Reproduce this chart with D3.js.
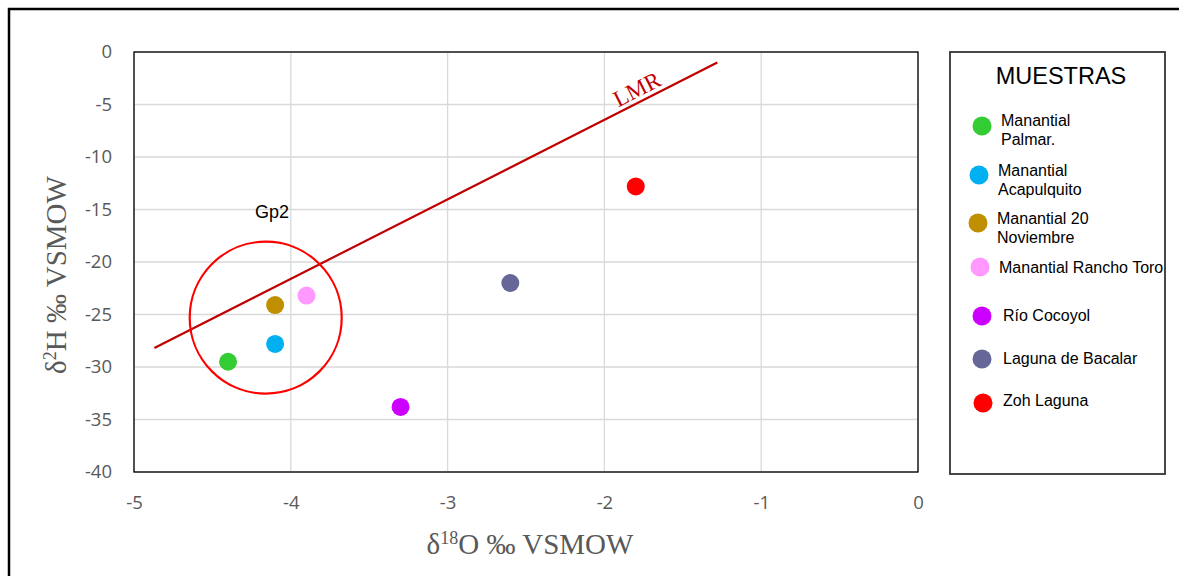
<!DOCTYPE html>
<html>
<head>
<meta charset="utf-8">
<script src="https://cdn.jsdelivr.net/npm/d3@7"></script>
<style>
  body { margin: 0; background: #fff; }
  svg { display: block; }
</style>
</head>
<body>
<div id="chart"></div>
<script>
// sample data
const samples = ['Manantial Palmar.', 'Manantial Acapulquito', 'Manantial 20 Noviembre',
  'Manantial Rancho Toro', 'Río Cocoyol', 'Laguna de Bacalar', 'Zoh Laguna'];
const d18O = [-4.4, -4.1, -4.1, -3.9, -3.3, -2.6, -1.8];
const d2H = [-29.5, -27.8, -24.1, -23.2, -33.8, -22.0, -12.8];
const colors = ['#33cc33', '#00b0f0', '#bf8f00', '#ff99ff', '#cc00ff', '#666699', '#ff0000'];

// legend text split as in the original
const legendLines = [['Manantial', 'Palmar.'], ['Manantial', 'Acapulquito'], ['Manantial 20', 'Noviembre'],
  ['Manantial Rancho Toro'], ['Río Cocoyol'], ['Laguna de Bacalar'], ['Zoh Laguna']];

// local meteoric line endpoints
const lmrX = [-4.87, -1.28];
const lmrY = [-28.2, -1.0];

// group circle (center in data units)
const gp2Center = [-4.16, -25.3];

const xTicks = [-5, -4, -3, -2, -1, 0];
const yTicks = [0, -5, -10, -15, -20, -25, -30, -35, -40];

const W = 1179, H = 576;
const margin = { top: 52, left: 134 };
const width = 784, height = 420;

const svg = d3.select('#chart').append('svg')
  .attr('width', W).attr('height', H);

// outer frame
svg.append('rect')
  .attr('x', 9).attr('y', 9).attr('width', W + 10).attr('height', H + 10)
  .attr('fill', 'none').attr('stroke', '#000').attr('stroke-width', 2.5);

const x = d3.scaleLinear().domain([-5, 0]).range([0, width]);
const y = d3.scaleLinear().domain([-40, 0]).range([height, 0]);

const g = svg.append('g')
  .attr('transform', 'translate(' + margin.left + ',' + margin.top + ')');

// gridlines
g.append('g')
  .selectAll('line.h')
  .data(yTicks)
  .enter().append('line')
  .attr('x1', 0).attr('x2', width)
  .attr('y1', d => y(d)).attr('y2', d => y(d))
  .attr('stroke', '#d9d9d9').attr('stroke-width', 1.3);

g.append('g')
  .selectAll('line.v')
  .data(xTicks)
  .enter().append('line')
  .attr('x1', d => x(d)).attr('x2', d => x(d))
  .attr('y1', 0).attr('y2', height)
  .attr('stroke', '#d9d9d9').attr('stroke-width', 1.3);

// plot frame
g.append('rect')
  .attr('x', 0).attr('y', 0).attr('width', width).attr('height', height)
  .attr('fill', 'none').attr('stroke', '#000').attr('stroke-width', 1.3);

// axes (labels only)
const fmt = d => String(d);
const xAxis = g.append('g')
  .attr('transform', 'translate(0,' + height + ')')
  .call(d3.axisBottom(x).tickValues(xTicks).tickSize(0).tickPadding(24).tickFormat(fmt));
const yAxis = g.append('g')
  .call(d3.axisLeft(y).tickValues(yTicks).tickSize(0).tickPadding(22).tickFormat(fmt));
[xAxis, yAxis].forEach(a => {
  a.select('.domain').remove();
  a.selectAll('text')
    .attr('fill', '#595959')
    .style('font-family', '"Open Sans", "Liberation Sans", sans-serif')
    .style('font-size', '18.5px');
});

// axis titles
const titleFont = '"Liberation Serif", "DejaVu Serif", serif';
const xt = svg.append('text')
  .attr('x', 530).attr('y', 554)
  .attr('text-anchor', 'middle')
  .attr('fill', '#595959')
  .style('font-family', titleFont).style('font-size', '29px');
xt.append('tspan').text('δ');
xt.append('tspan').attr('dy', -10).style('font-size', '18px').text('18');
xt.append('tspan').attr('dy', 10).text('O ‰ VSMOW');

const yt = svg.append('text')
  .attr('transform', 'translate(66,275) rotate(-90)')
  .attr('text-anchor', 'middle')
  .attr('fill', '#595959')
  .style('font-family', titleFont).style('font-size', '29px');
yt.append('tspan').text('δ');
yt.append('tspan').attr('dy', -10).style('font-size', '18px').text('2');
yt.append('tspan').attr('dy', 10).text('H ‰ VSMOW');

// LMR line
g.append('line')
  .attr('x1', x(lmrX[0])).attr('y1', y(lmrY[0]))
  .attr('x2', x(lmrX[1])).attr('y2', y(lmrY[1]))
  .attr('stroke', '#c00000').attr('stroke-width', 2.2);

const lmrAngle = Math.atan2(y(lmrY[1]) - y(lmrY[0]), x(lmrX[1]) - x(lmrX[0])) * 180 / Math.PI;
g.append('text')
  .attr('transform', 'translate(' + x(-1.77) + ',' + y(-4.2) + ') rotate(' + lmrAngle + ')')
  .attr('text-anchor', 'middle')
  .attr('fill', '#c00000')
  .style('font-family', titleFont).style('font-size', '23px')
  .text('LMR');

// Gp2 circle
g.append('ellipse')
  .attr('cx', x(gp2Center[0])).attr('cy', y(gp2Center[1]))
  .attr('rx', 76).attr('ry', 76)
  .attr('fill', 'none').attr('stroke', '#ff0000').attr('stroke-width', 2.2);

g.append('text')
  .attr('x', x(-4.12)).attr('y', y(-15.8))
  .attr('text-anchor', 'middle')
  .attr('fill', '#000')
  .style('font-family', '"Liberation Sans", Arial, sans-serif').style('font-size', '18px')
  .text('Gp2');

// points
g.selectAll('circle.pt')
  .data(samples)
  .enter().append('circle')
  .attr('class', 'pt')
  .attr('cx', (d, i) => x(d18O[i]))
  .attr('cy', (d, i) => y(d2H[i]))
  .attr('r', 9)
  .attr('fill', (d, i) => colors[i]);

// legend
const lg = svg.append('g');
lg.append('rect')
  .attr('x', 950).attr('y', 52).attr('width', 215).attr('height', 422)
  .attr('fill', '#fff').attr('stroke', '#333').attr('stroke-width', 1.8);
lg.append('text')
  .attr('x', 1061).attr('y', 84)
  .attr('text-anchor', 'middle')
  .attr('fill', '#000')
  .style('font-family', '"Liberation Sans", Arial, sans-serif').style('font-size', '23.5px')
  .text('MUESTRAS');

const legY = [126, 175, 223, 267, 316, 359, 403];
const legMarkX = [982, 979, 978, 980, 982, 982, 983];
const legTextX = [1001, 998, 997, 999, 1003, 1003, 1003];
const legTextY = [131, 181, 229, 273, 321, 364, 406];

samples.forEach((s, i) => {
  lg.append('circle')
    .attr('cx', legMarkX[i]).attr('cy', legY[i]).attr('r', 9.5)
    .attr('fill', colors[i]);
  const t = lg.append('text')
    .attr('fill', '#000')
    .style('font-family', '"Liberation Sans", Arial, sans-serif').style('font-size', '16px');
  legendLines[i].forEach((line, j) => {
    t.append('tspan')
      .attr('x', legTextX[i])
      .attr('y', legTextY[i] - (legendLines[i].length > 1 ? 5 : 0) + j * 19)
      .text(line);
  });
});
</script>
</body>
</html>
